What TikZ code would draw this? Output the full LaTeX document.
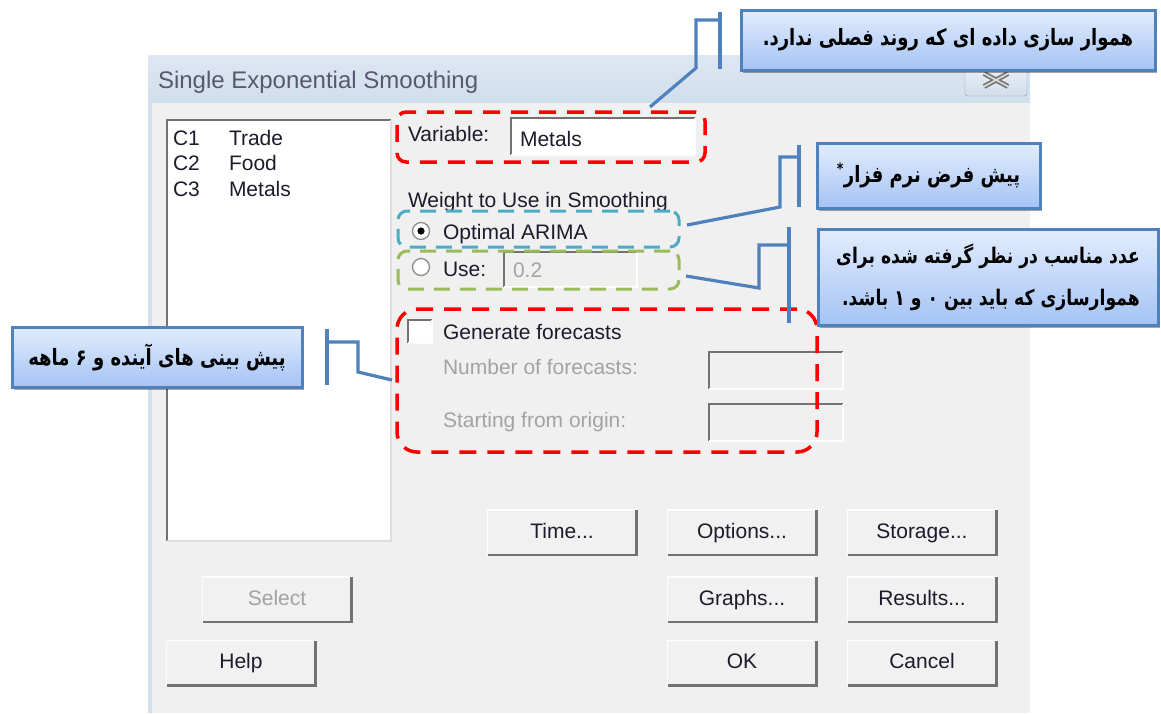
\documentclass[tikz,border=0pt]{standalone}
\usepackage{fontspec}
\setmainfont{Liberation Sans}
\newfontfamily\fafont[Script=Arabic,FakeStretch=0.8]{DejaVu Sans}
\TeXXeTstate=1
\usetikzlibrary{positioning,shadows,calc}
\definecolor{cWin}   {HTML}{F0F0F0}
\definecolor{cBtn}   {HTML}{F1F1F1}
\definecolor{cBarT}  {HTML}{DEE7F2}
\definecolor{cBarB}  {HTML}{D1DEEC}
\definecolor{cFrame} {HTML}{D3DFED}
\definecolor{cTitle} {HTML}{585870}
\definecolor{cTxt}   {HTML}{1C1C2C}
\definecolor{cGray}  {HTML}{A3A3A3}
\definecolor{cEdgeD} {HTML}{727272}
\definecolor{cEdgeL} {HTML}{FDFDFD}
\definecolor{cEdgeM} {HTML}{DEDEDE}
\definecolor{cRim}   {HTML}{8C8C8C}
\definecolor{cXrim}  {HTML}{8E9BAE}
\definecolor{cXtop}  {HTML}{EDF2F8}
\definecolor{cXbot}  {HTML}{D2DDEA}
\definecolor{cRed}   {HTML}{FF0000}
\definecolor{cAqua}  {HTML}{4BACC6}
\definecolor{cOlive} {HTML}{9BBB59}
\definecolor{cCall}  {HTML}{4F81BD}
\definecolor{cCallT} {HTML}{E2EDFD}
\definecolor{cCallB} {HTML}{A5C3F4}
\tikzset{
  dlg/.style    ={font=\fontsize{21}{24}\selectfont,text=cTxt,inner sep=0pt,anchor=base west},
  dlgoff/.style ={dlg,text=cGray},
  btn/.style    ={fill=cBtn,minimum width=149pt,minimum height=45pt,inner sep=0pt,
                  text height=15pt,text depth=4pt,
                  font=\fontsize{21}{24}\selectfont,text=cTxt},
  fld/.style    ={fill=white,inner sep=0pt},
  radio/.style  ={circle,draw=cRim,fill=white,line width=1.3pt,minimum size=17pt,inner sep=0pt},
  sunk/.style   ={draw=cEdgeD,line width=2.2pt},
  lit/.style    ={draw=cEdgeL,line width=1.6pt},
  flat/.style   ={draw=cEdgeM,line width=1.6pt},
  grpR/.style   ={draw=cRed,line width=3.5pt,dash pattern=on 17pt off 11pt,
                  rounded corners=9pt,inner sep=0pt},
  grpA/.style   ={grpR,draw=cAqua,line width=3pt,dash pattern=on 16pt off 10pt},
  grpO/.style   ={grpA,draw=cOlive},
  note/.style   ={draw=cCall,line width=3pt,top color=cCallT,bottom color=cCallB,
                  font={\fafont\bfseries\fontsize{22.5}{42}\selectfont},text=black,
                  drop shadow={shadow xshift=2pt,shadow yshift=-3pt,opacity=.35,fill=black},
                  inner sep=0pt},
  lead/.style   ={draw=cCall,line width=3.2pt},
}
\newcommand{\elp}{...}

\begin{document}
\begin{tikzpicture}[x=1pt,y=-1pt,every node/.style={outer sep=0pt}]
\useasboundingbox[fill=white] (0,0) rectangle (1161,713);

% ---------------- window frame --------------------------------------------
\fill[top color=cBarT,bottom color=cBarB] (148,55) rectangle (1030,103);
\fill[cWin] (148,103) rectangle (1030,713);
\fill[cFrame] (148,103) rectangle (152,713);
\node[font=\fontsize{24}{28}\selectfont,text=cTitle,inner sep=0pt,anchor=base west]
  (ttl) at (158,88) {Single Exponential Smoothing};
\node[draw=cXrim,top color=cXtop,bottom color=cXbot,rounded corners=3pt,
      minimum width=62pt,minimum height=32pt,inner sep=0pt] (xbtn) at (996,80) {};
\draw[cEdgeD,line width=5pt] (xbtn.center) ++(-12,-6.5) -- ++(24,13) ++(-24,0) -- ++(24,-13);
\draw[cEdgeM,line width=1.6pt] (xbtn.center) ++(-12,-6.5) -- ++(24,13) ++(-24,0) -- ++(24,-13);

% ---------------- column list ---------------------------------------------
\node[fld,minimum width=224pt,minimum height=421pt] (lst) at (279,330.5) {};
\draw[sunk] (lst.south west) |- (lst.north east);
\draw[flat] (lst.south west) -| (lst.north east);
\foreach \i/\n/\y in {1/Trade/145,2/Food/170,3/Metals/196}
  {\node[dlg] (id\i) at (173,\y) {C\i};
   \node[dlg] (nm\i) at (229,\y) {\n};}

% ---------------- fields --------------------------------------------------
\node[dlg] (lVar) at (408,141) {Variable:};
\node[fld,minimum width=184pt,minimum height=37pt] (fVar) at (603,136.5) {};
\node[dlg] (tVar) at (520,146) {Metals};
\node[dlg] (lWgt) at (408,207) {Weight to Use in Smoothing};
\node[radio] (rOpt) at (421,231) {};
\fill[black] (rOpt) circle (3.6);
\node[dlg] (lOpt) at (443,239) {Optimal ARIMA};
\node[radio] (rUse) at (421,267) {};
\node[dlg] (lUse) at (443,276) {Use:};
\node[fld,fill=cWin,minimum width=133pt,minimum height=35pt] (fUse) at (570.5,269.5) {};
\node[dlgoff] (tUse) at (513,277) {0.2};
\node[fld,minimum width=24pt,minimum height=23pt] (chk) at (420,331.5) {};
\node[dlg] (lGen) at (443,339) {Generate forecasts};
\node[dlgoff] (lNum) at (443,374) {Number of forecasts:};
\node[fld,fill=cWin,minimum width=134pt,minimum height=37pt] (fNum) at (776,370.5) {};
\node[dlgoff] (lOrg) at (443,427) {Starting from origin:};
\node[fld,fill=cWin,minimum width=134pt,minimum height=37pt] (fOrg) at (776,422.5) {};
\foreach \n in {fVar,fUse,chk,fNum,fOrg}
  {\draw[sunk] (\n.south west) |- (\n.north east);
   \draw[lit] (\n.south west) -| (\n.north east);}

% ---------------- buttons -------------------------------------------------
\foreach \n/\x/\y/\t in {bTime/562/532.5/Time\elp,bOpt/742/532.5/Options\elp,
    bStor/922/532.5/Storage\elp,bGraph/742/599.5/Graphs\elp,bRes/922/599.5/Results\elp,
    bHelp/241/663/Help,bOK/742/663/OK,bCan/922/663/Cancel}
  {\node[btn] (\n) at (\x,\y) {\t};}
\node[btn,text=cGray] (bSel) at (277,599.5) {Select};
\foreach \n in {bTime,bOpt,bStor,bSel,bGraph,bRes,bHelp,bOK,bCan}
  {\draw[lit] (\n.south west) |- (\n.north east);
   \draw[sunk,line width=2.6pt] (\n.south west) -| (\n.north east);}

% ---------------- marked groups -------------------------------------------
\node[grpR,minimum width=308pt,minimum height=50pt] (gVar) at (551,137) {};
\node[grpA,minimum width=281pt,minimum height=36pt] (gOpt) at (538.5,229) {};
\node[grpO,minimum width=281pt,minimum height=38pt] (gUse) at (538.5,270) {};
\node[grpR,rounded corners=20pt,minimum width=420pt,minimum height=143pt] (gFc) at (607,380.5) {};

% ---------------- callouts ------------------------------------------------
\coordinate (a1t) at (720,12);  \coordinate (a1b) at (720,69);
\coordinate (p1a) at (720,20);  \coordinate (p1b) at (696,20);
\coordinate (p1c) at (696,68);  \coordinate (p1d) at (650,107);
\coordinate (a2t) at (799,145); \coordinate (a2b) at (799,207);
\coordinate (p2a) at (799,157); \coordinate (p2b) at (780,157);
\coordinate (p2c) at (780,207); \coordinate (p2d) at (687,225);
\coordinate (a3t) at (789,227); \coordinate (a3b) at (789,323);
\coordinate (p3a) at (789,245); \coordinate (p3b) at (759,245);
\coordinate (p3c) at (759,288); \coordinate (p3d) at (686,276);
\coordinate (a4t) at (327,329); \coordinate (a4b) at (327,385);
\coordinate (p4a) at (327,342); \coordinate (p4b) at (358,342);
\coordinate (p4c) at (358,372); \coordinate (p4d) at (392,380);
\foreach \k in {1,2,3,4}
  {\draw[lead] (a\k t) -- (a\k b);
   \draw[lead] (p\k a) -- (p\k b) -- (p\k c) -- (p\k d);}

\node[note,minimum width=414pt,minimum height=60pt] (k1) at (948,40)
  {\beginR هموار سازی داده ای که روند فصلی ندارد.\endR};
\node[note,minimum width=223pt,minimum height=65pt] (k2) at (928.5,175.5)
  {\beginR پیش فرض نرم فزار\textsuperscript{*}\endR};
\node[note,minimum width=340pt,minimum height=96pt,align=right,
      font={\fafont\bfseries\fontsize{21.5}{42}\selectfont}] (k3) at (988,277)
  {\beginR عدد مناسب در نظر گرفته شده برای\endR\\
   \beginR هموارسازی که باید بین ۰ و ۱ باشد.\endR};
\node[note,minimum width=290pt,minimum height=60pt] (k4) at (157,357)
  {\beginR پیش بینی های آینده و ۶ ماهه\endR};
\end{tikzpicture}
\end{document}
